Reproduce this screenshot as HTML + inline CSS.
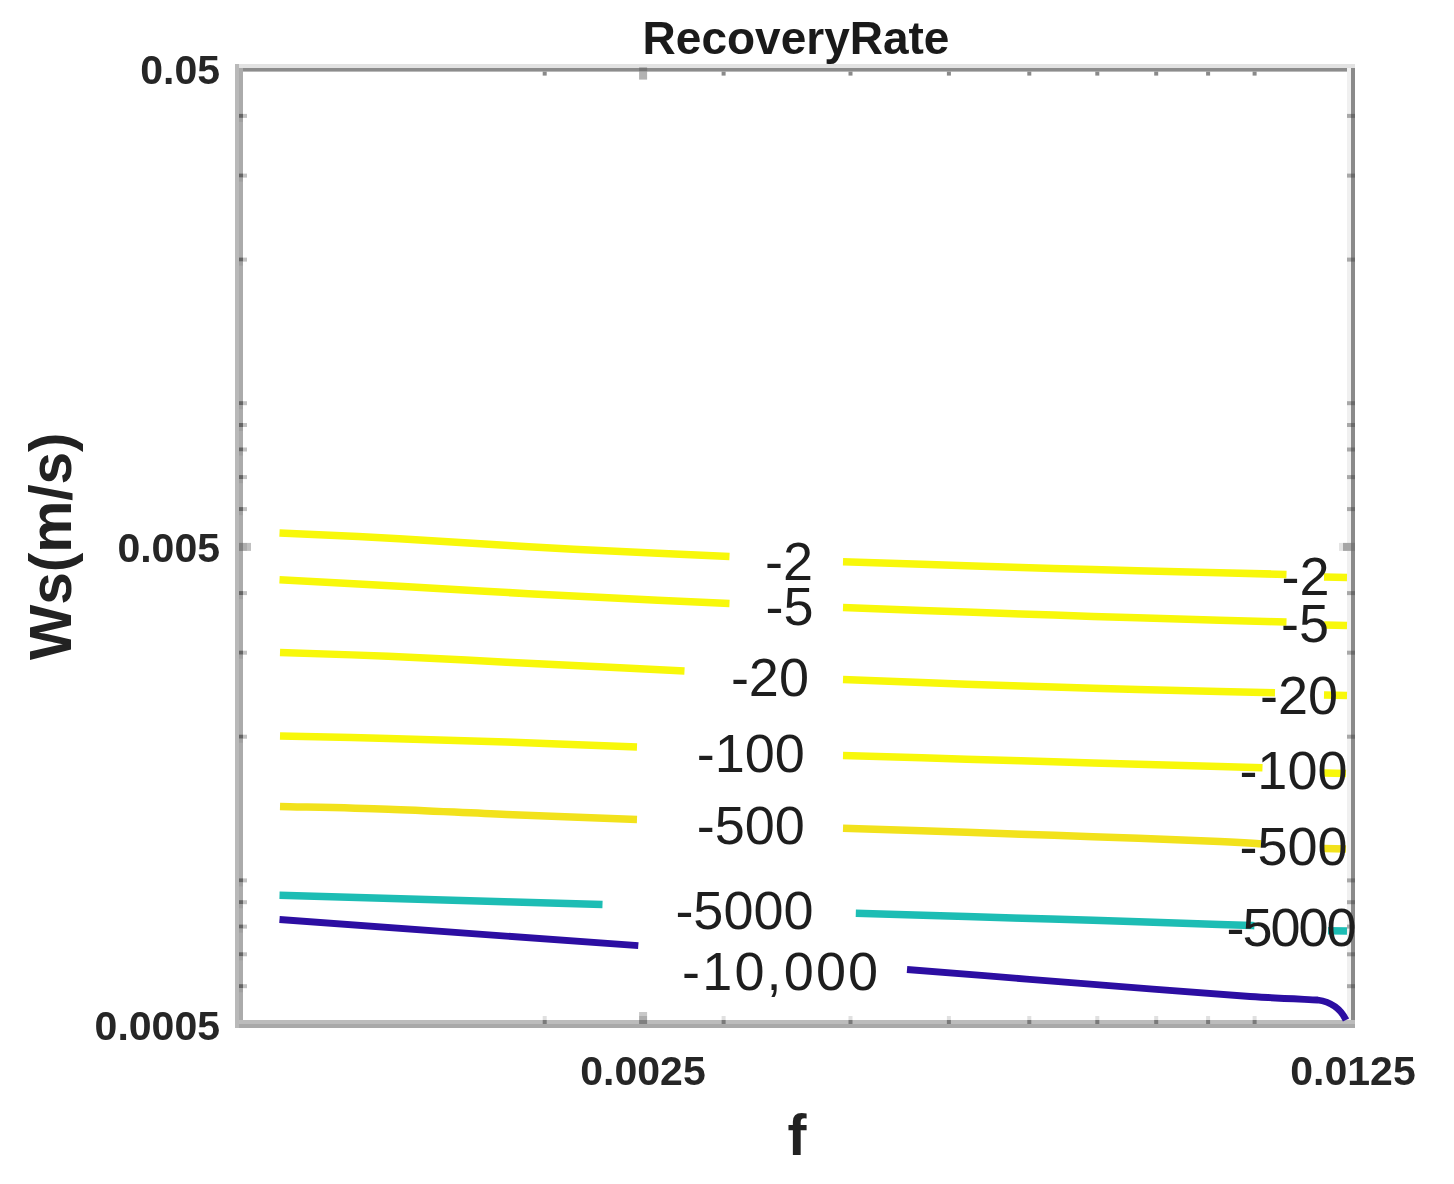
<!DOCTYPE html>
<html><head><meta charset="utf-8"><title>RecoveryRate</title>
<style>html,body{margin:0;padding:0;background:#fff;}svg{display:block;filter:blur(0.7px);}</style></head>
<body><svg width="1454" height="1184" viewBox="0 0 1454 1184">
<rect width="1454" height="1184" fill="#fff"/>
<rect x="235" y="64" width="1120" height="4" fill="#e2e2e2"/>
<rect x="239" y="68" width="1116" height="3.6" fill="#8c8c8c"/>
<rect x="235" y="64" width="4" height="964" fill="#b9b9b9"/>
<rect x="239" y="68" width="4" height="956" fill="#ababab"/>
<rect x="1347" y="68" width="4" height="952" fill="#f0f0f0"/>
<rect x="1351" y="68" width="4" height="960" fill="#8a8a8a"/>
<rect x="239" y="1020" width="1116" height="4" fill="#bcbcbc"/>
<rect x="239" y="1024" width="1116" height="4" fill="#a9a9a9"/>
<rect x="542.7" y="1016" width="4" height="4" fill="#e0e0e0"/>
<rect x="542.7" y="1020" width="4" height="4" fill="#7a7a7a"/>
<rect x="542.7" y="71.6" width="4" height="4" fill="#8a8a8a"/>
<rect x="721.6" y="1016" width="4" height="4" fill="#e0e0e0"/>
<rect x="721.6" y="1020" width="4" height="4" fill="#7a7a7a"/>
<rect x="721.6" y="71.6" width="4" height="4" fill="#8a8a8a"/>
<rect x="848.5" y="1016" width="4" height="4" fill="#e0e0e0"/>
<rect x="848.5" y="1020" width="4" height="4" fill="#7a7a7a"/>
<rect x="848.5" y="71.6" width="4" height="4" fill="#8a8a8a"/>
<rect x="946.9" y="1016" width="4" height="4" fill="#e0e0e0"/>
<rect x="946.9" y="1020" width="4" height="4" fill="#7a7a7a"/>
<rect x="946.9" y="71.6" width="4" height="4" fill="#8a8a8a"/>
<rect x="1027.3" y="1016" width="4" height="4" fill="#e0e0e0"/>
<rect x="1027.3" y="1020" width="4" height="4" fill="#7a7a7a"/>
<rect x="1027.3" y="71.6" width="4" height="4" fill="#8a8a8a"/>
<rect x="1095.3" y="1016" width="4" height="4" fill="#e0e0e0"/>
<rect x="1095.3" y="1020" width="4" height="4" fill="#7a7a7a"/>
<rect x="1095.3" y="71.6" width="4" height="4" fill="#8a8a8a"/>
<rect x="1154.2" y="1016" width="4" height="4" fill="#e0e0e0"/>
<rect x="1154.2" y="1020" width="4" height="4" fill="#7a7a7a"/>
<rect x="1154.2" y="71.6" width="4" height="4" fill="#8a8a8a"/>
<rect x="1206.1" y="1016" width="4" height="4" fill="#e0e0e0"/>
<rect x="1206.1" y="1020" width="4" height="4" fill="#7a7a7a"/>
<rect x="1206.1" y="71.6" width="4" height="4" fill="#8a8a8a"/>
<rect x="1252.6" y="1016" width="4" height="4" fill="#e0e0e0"/>
<rect x="1252.6" y="1020" width="4" height="4" fill="#7a7a7a"/>
<rect x="1252.6" y="71.6" width="4" height="4" fill="#8a8a8a"/>
<rect x="639.1" y="1012" width="8" height="4" fill="#c8c8c8"/>
<rect x="639.1" y="1016" width="8" height="4" fill="#adadad"/>
<rect x="639.1" y="1020" width="8" height="4" fill="#808080"/>
<rect x="639.1" y="67.6" width="8" height="4" fill="#767676"/>
<rect x="639.1" y="71.6" width="8" height="8" fill="#b2b2b2"/>
<rect x="239" y="984.2" width="4" height="4" fill="#646464"/>
<rect x="239" y="988.2" width="4" height="4" fill="#a0a0a0"/>
<rect x="243" y="984.2" width="4" height="4" fill="#c2c2c2"/>
<rect x="1351" y="984.2" width="4" height="4" fill="#6a6a6a"/>
<rect x="1347" y="984.2" width="4" height="4" fill="#a8a8a8"/>
<rect x="239" y="952.3" width="4" height="4" fill="#646464"/>
<rect x="239" y="956.3" width="4" height="4" fill="#a0a0a0"/>
<rect x="243" y="952.3" width="4" height="4" fill="#c2c2c2"/>
<rect x="1351" y="952.3" width="4" height="4" fill="#6a6a6a"/>
<rect x="1347" y="952.3" width="4" height="4" fill="#a8a8a8"/>
<rect x="239" y="924.6" width="4" height="4" fill="#646464"/>
<rect x="239" y="928.6" width="4" height="4" fill="#a0a0a0"/>
<rect x="243" y="924.6" width="4" height="4" fill="#c2c2c2"/>
<rect x="1351" y="924.6" width="4" height="4" fill="#6a6a6a"/>
<rect x="1347" y="924.6" width="4" height="4" fill="#a8a8a8"/>
<rect x="239" y="900.2" width="4" height="4" fill="#646464"/>
<rect x="239" y="904.2" width="4" height="4" fill="#a0a0a0"/>
<rect x="243" y="900.2" width="4" height="4" fill="#c2c2c2"/>
<rect x="1351" y="900.2" width="4" height="4" fill="#6a6a6a"/>
<rect x="1347" y="900.2" width="4" height="4" fill="#a8a8a8"/>
<rect x="239" y="878.4" width="4" height="4" fill="#646464"/>
<rect x="239" y="882.4" width="4" height="4" fill="#a0a0a0"/>
<rect x="243" y="878.4" width="4" height="4" fill="#c2c2c2"/>
<rect x="1351" y="878.4" width="4" height="4" fill="#6a6a6a"/>
<rect x="1347" y="878.4" width="4" height="4" fill="#a8a8a8"/>
<rect x="239" y="734.7" width="4" height="4" fill="#646464"/>
<rect x="239" y="738.7" width="4" height="4" fill="#a0a0a0"/>
<rect x="243" y="734.7" width="4" height="4" fill="#c2c2c2"/>
<rect x="1351" y="734.7" width="4" height="4" fill="#6a6a6a"/>
<rect x="1347" y="734.7" width="4" height="4" fill="#a8a8a8"/>
<rect x="239" y="650.7" width="4" height="4" fill="#646464"/>
<rect x="239" y="654.7" width="4" height="4" fill="#a0a0a0"/>
<rect x="243" y="650.7" width="4" height="4" fill="#c2c2c2"/>
<rect x="1351" y="650.7" width="4" height="4" fill="#6a6a6a"/>
<rect x="1347" y="650.7" width="4" height="4" fill="#a8a8a8"/>
<rect x="239" y="591.1" width="4" height="4" fill="#646464"/>
<rect x="239" y="595.1" width="4" height="4" fill="#a0a0a0"/>
<rect x="243" y="591.1" width="4" height="4" fill="#c2c2c2"/>
<rect x="1351" y="591.1" width="4" height="4" fill="#6a6a6a"/>
<rect x="1347" y="591.1" width="4" height="4" fill="#a8a8a8"/>
<rect x="239" y="507.1" width="4" height="4" fill="#646464"/>
<rect x="239" y="511.1" width="4" height="4" fill="#a0a0a0"/>
<rect x="243" y="507.1" width="4" height="4" fill="#c2c2c2"/>
<rect x="1351" y="507.1" width="4" height="4" fill="#6a6a6a"/>
<rect x="1347" y="507.1" width="4" height="4" fill="#a8a8a8"/>
<rect x="239" y="475.1" width="4" height="4" fill="#646464"/>
<rect x="239" y="479.1" width="4" height="4" fill="#a0a0a0"/>
<rect x="243" y="475.1" width="4" height="4" fill="#c2c2c2"/>
<rect x="1351" y="475.1" width="4" height="4" fill="#6a6a6a"/>
<rect x="1347" y="475.1" width="4" height="4" fill="#a8a8a8"/>
<rect x="239" y="447.5" width="4" height="4" fill="#646464"/>
<rect x="239" y="451.5" width="4" height="4" fill="#a0a0a0"/>
<rect x="243" y="447.5" width="4" height="4" fill="#c2c2c2"/>
<rect x="1351" y="447.5" width="4" height="4" fill="#6a6a6a"/>
<rect x="1347" y="447.5" width="4" height="4" fill="#a8a8a8"/>
<rect x="239" y="423.0" width="4" height="4" fill="#646464"/>
<rect x="239" y="427.0" width="4" height="4" fill="#a0a0a0"/>
<rect x="243" y="423.0" width="4" height="4" fill="#c2c2c2"/>
<rect x="1351" y="423.0" width="4" height="4" fill="#6a6a6a"/>
<rect x="1347" y="423.0" width="4" height="4" fill="#a8a8a8"/>
<rect x="239" y="401.2" width="4" height="4" fill="#646464"/>
<rect x="239" y="405.2" width="4" height="4" fill="#a0a0a0"/>
<rect x="243" y="401.2" width="4" height="4" fill="#c2c2c2"/>
<rect x="1351" y="401.2" width="4" height="4" fill="#6a6a6a"/>
<rect x="1347" y="401.2" width="4" height="4" fill="#a8a8a8"/>
<rect x="239" y="257.6" width="4" height="4" fill="#646464"/>
<rect x="239" y="261.6" width="4" height="4" fill="#a0a0a0"/>
<rect x="243" y="257.6" width="4" height="4" fill="#c2c2c2"/>
<rect x="1351" y="257.6" width="4" height="4" fill="#6a6a6a"/>
<rect x="1347" y="257.6" width="4" height="4" fill="#a8a8a8"/>
<rect x="239" y="173.6" width="4" height="4" fill="#646464"/>
<rect x="239" y="177.6" width="4" height="4" fill="#a0a0a0"/>
<rect x="243" y="173.6" width="4" height="4" fill="#c2c2c2"/>
<rect x="1351" y="173.6" width="4" height="4" fill="#6a6a6a"/>
<rect x="1347" y="173.6" width="4" height="4" fill="#a8a8a8"/>
<rect x="239" y="113.9" width="4" height="4" fill="#646464"/>
<rect x="239" y="117.9" width="4" height="4" fill="#a0a0a0"/>
<rect x="243" y="113.9" width="4" height="4" fill="#c2c2c2"/>
<rect x="1351" y="113.9" width="4" height="4" fill="#6a6a6a"/>
<rect x="1347" y="113.9" width="4" height="4" fill="#a8a8a8"/>
<rect x="239" y="542.9" width="4" height="8" fill="#808080"/>
<rect x="243" y="542.9" width="4" height="8" fill="#adadad"/>
<rect x="247" y="542.9" width="4" height="8" fill="#c0c0c0"/>
<rect x="1351" y="542.9" width="4" height="8" fill="#787878"/>
<rect x="1343" y="542.9" width="8" height="8" fill="#a6a6a6"/>
<rect x="1339" y="542.9" width="4" height="8" fill="#e4e4e4"/>
<path d="M279.5,532.9 C299.5,533.9 357.8,536.4 399.3,538.7 C440.8,541.0 485.5,544.4 528.6,546.8 C571.7,549.2 624.3,551.7 657.8,553.3 C691.3,554.9 717.5,556.0 729.5,556.5" fill="none" stroke="#f8f80a" stroke-width="7.5" stroke-linejoin="round"/>
<path d="M843.0,561.7 C863.6,562.4 924.8,564.5 966.5,565.8 C1008.2,567.1 1050.8,568.4 1093.0,569.6 C1135.2,570.8 1187.3,572.0 1219.6,572.8 C1251.8,573.6 1275.3,574.1 1286.5,574.4" fill="none" stroke="#f8f80a" stroke-width="7.5" stroke-linejoin="round"/>
<path d="M1324.0,577.0 L1347.0,577.5" fill="none" stroke="#f8f80a" stroke-width="7.5" stroke-linejoin="round"/>
<path d="M279.5,579.8 C299.5,580.9 357.8,584.0 399.3,586.3 C440.8,588.6 485.5,591.4 528.6,593.7 C571.7,596.0 624.3,598.6 657.8,600.2 C691.3,601.8 717.5,602.9 729.5,603.4" fill="none" stroke="#f8f80a" stroke-width="7.5" stroke-linejoin="round"/>
<path d="M843.0,607.6 C863.6,608.3 924.8,610.5 966.5,612.0 C1008.2,613.5 1050.8,615.0 1093.0,616.4 C1135.2,617.8 1187.3,619.2 1219.6,620.2 C1251.8,621.2 1275.3,621.8 1286.5,622.1" fill="none" stroke="#f8f80a" stroke-width="7.5" stroke-linejoin="round"/>
<path d="M1324.0,625.0 L1347.0,625.5" fill="none" stroke="#f8f80a" stroke-width="7.5" stroke-linejoin="round"/>
<path d="M280.0,652.4 C298.1,653.0 350.5,654.7 388.3,656.3 C426.1,657.9 467.2,660.2 506.6,662.2 C546.0,664.2 595.2,666.6 624.9,668.1 C654.5,669.6 674.6,670.6 684.5,671.1" fill="none" stroke="#f8f80a" stroke-width="7.5" stroke-linejoin="round"/>
<path d="M843.0,679.5 C863.6,680.3 924.8,682.7 966.5,684.2 C1008.2,685.7 1050.8,687.1 1093.0,688.3 C1135.2,689.5 1189.3,690.8 1219.6,691.5 C1249.9,692.2 1265.8,692.6 1275.0,692.8" fill="none" stroke="#f8f80a" stroke-width="7.5" stroke-linejoin="round"/>
<path d="M1324.0,695.0 L1347.0,695.5" fill="none" stroke="#f8f80a" stroke-width="7.5" stroke-linejoin="round"/>
<path d="M280.0,736.1 C298.1,736.5 350.5,737.5 388.3,738.5 C426.1,739.5 465.2,740.6 506.6,742.0 C548.1,743.4 615.3,746.2 637.0,747.1" fill="none" stroke="#f8f80a" stroke-width="7.5" stroke-linejoin="round"/>
<path d="M843.0,755.4 C863.6,756.0 924.8,757.9 966.5,759.2 C1008.2,760.5 1050.8,761.8 1093.0,763.0 C1135.2,764.2 1191.3,765.7 1219.6,766.5 C1247.8,767.3 1255.3,767.6 1262.5,767.8" fill="none" stroke="#f8f80a" stroke-width="7.5" stroke-linejoin="round"/>
<path d="M1324.0,773.0 L1346.0,773.5" fill="none" stroke="#f8f80a" stroke-width="7.5" stroke-linejoin="round"/>
<path d="M280.0,806.5 C298.1,807.0 350.5,807.9 388.3,809.2 C426.1,810.5 465.2,812.8 506.6,814.5 C548.1,816.2 615.3,818.7 637.0,819.5" fill="none" stroke="#f2e21c" stroke-width="7.5" stroke-linejoin="round"/>
<path d="M843.0,828.2 C863.6,828.9 924.8,830.9 966.5,832.3 C1008.2,833.7 1050.8,835.2 1093.0,836.7 C1135.2,838.2 1191.6,840.3 1219.6,841.5 C1247.6,842.7 1254.1,843.3 1261.0,843.7" fill="none" stroke="#f2e21c" stroke-width="7.5" stroke-linejoin="round"/>
<path d="M1324.0,848.6 L1346.0,849.0" fill="none" stroke="#f2e21c" stroke-width="7.5" stroke-linejoin="round"/>
<path d="M279.5,895.3 L602.5,904.4" fill="none" stroke="#1dbdb4" stroke-width="7.5" stroke-linejoin="round"/>
<path d="M855.8,913.3 C874.2,913.8 927.0,915.3 966.5,916.5 C1006.0,917.7 1050.8,919.0 1093.0,920.3 C1135.2,921.6 1192.7,923.5 1219.6,924.4 C1246.5,925.3 1248.6,925.5 1254.4,925.7" fill="none" stroke="#1dbdb4" stroke-width="7.5" stroke-linejoin="round"/>
<path d="M1328.0,930.7 L1347.0,931.0" fill="none" stroke="#1dbdb4" stroke-width="7.5" stroke-linejoin="round"/>
<path d="M279.5,919.5 L638.3,945.7" fill="none" stroke="#2c0ea2" stroke-width="6.8" stroke-linejoin="round"/>
<path d="M907.0,969.5 C926.9,971.1 985.5,975.8 1026.5,979.1 C1067.5,982.4 1115.8,986.3 1153.0,989.2 C1190.2,992.1 1222.6,994.7 1250.0,996.5 C1277.4,998.3 1306.3,999.4 1317.6,1000.0 Q1338,1003 1346,1020" fill="none" stroke="#2c0ea2" stroke-width="6.8" stroke-linejoin="round"/>
<g font-family="Liberation Sans, Arial, sans-serif" fill="#1e1e1e">
<text x="765.1" y="579.6" font-size="54">-2</text>
<text x="765.6" y="625.4" font-size="54">-5</text>
<text x="730.9" y="695.6" font-size="54">-20</text>
<text x="696.7" y="771.5" font-size="54">-100</text>
<text x="696.7" y="844.2" font-size="54">-500</text>
<text x="675.4" y="928.8" font-size="54">-5000</text>
<text x="682.1" y="990.0" font-size="54" textLength="196" lengthAdjust="spacing">-10,000</text>
<text x="1281.5" y="594.6" font-size="54">-2</text>
<text x="1281.0" y="641.8" font-size="54">-5</text>
<text x="1260.1" y="714.2" font-size="54">-20</text>
<text x="1239.4" y="788.6" font-size="54">-100</text>
<text x="1239.5" y="865.2" font-size="54">-500</text>
<text x="1226.5" y="945.5" font-size="54" textLength="130" lengthAdjust="spacing">-5000</text>
</g>
<g font-family="Liberation Sans, Arial, sans-serif" font-weight="bold" fill="#262626" font-size="41">
<text x="220" y="84" text-anchor="end">0.05</text>
<text x="220" y="562" text-anchor="end">0.005</text>
<text x="220" y="1040" text-anchor="end">0.0005</text>
<text x="643" y="1085" text-anchor="middle">0.0025</text>
<text x="1353" y="1085" text-anchor="middle">0.0125</text>
</g>
<text x="796" y="54" text-anchor="middle" font-family="Liberation Sans, Arial, sans-serif" font-weight="bold" font-size="46" fill="#1a1a1a">RecoveryRate</text>
<text transform="translate(70.8,546.3) rotate(-90)" text-anchor="middle" font-family="Liberation Sans, Arial, sans-serif" font-weight="bold" font-size="58.5" fill="#222">Ws(m/s)</text>
<text x="797" y="1155" text-anchor="middle" font-family="Liberation Sans, Arial, sans-serif" font-weight="bold" font-size="57" fill="#222">f</text>
</svg></body></html>
